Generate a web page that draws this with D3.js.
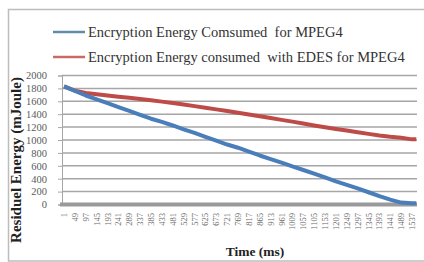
<!DOCTYPE html>
<html><head><meta charset="utf-8">
<script src="https://cdn.jsdelivr.net/npm/d3@7"></script>
<style>html,body{margin:0;padding:0;background:#fff;}svg{display:block;}</style>
</head><body><svg id="c" width="424" height="262"></svg>
<script>
const times = [1,49,97,145,193,241,289,337,385,433,481,529,577,625,673,721,769,817,865,913,961,1009,1057,1105,1153,1201,1249,1297,1345,1393,1441,1489,1537,1556];
const blueValues = [1830,1760,1690,1630,1570,1510,1450,1390,1330,1280,1225,1165,1110,1050,990,930,880,820,760,705,650,590,535,480,420,360,305,250,190,130,75,30,20,20];
const redValues = [1830,1765,1730,1710,1690,1672,1655,1635,1615,1595,1575,1550,1525,1500,1475,1450,1422,1395,1367,1340,1312,1285,1255,1226,1198,1172,1146,1120,1095,1070,1050,1035,1010,1010];
const tickLabels = ["1","49","97","145","193","241","289","337","385","433","481","529","577","625","673","721","769","817","865","913","961","1009","1057","1105","1153","1201","1249","1297","1345","1393","1441","1489","1537"];
const yTicks = [0,200,400,600,800,1000,1200,1400,1600,1800,2000];
const seriesNames = ["Encryption Energy Comsumed  for MPEG4","Encryption Energy consumed  with EDES for MPEG4"];
const colors = ["#4a7ebb","#be4b48"];
const legendColors = ["#5d8fa8","#c86a66"];

const svg = d3.select("#c");
const serif = "'Liberation Serif', 'DejaVu Serif', serif";
svg.append("rect").attr("x",8.5).attr("y",9.5).attr("width",430).attr("height",251.5)
  .attr("fill","#fff").attr("stroke","#bdbdbd").attr("stroke-width",1.5);

const x = d3.scaleLinear().domain([-8,1559]).range([62,417]);
const y = d3.scaleLinear().domain([0,2000]).range([204.5,75.5]);

// gridlines
svg.append("g").selectAll("line").data(yTicks.filter(d=>d>0)).join("line")
  .attr("x1",62).attr("x2",417).attr("y1",d=>y(d)).attr("y2",d=>y(d))
  .attr("stroke","#a6a6a6").attr("stroke-width",1.5);

// y axis
const ya = svg.append("g").attr("transform","translate(62,0)")
  .call(d3.axisLeft(y).tickValues(yTicks).tickFormat(d3.format("d")).tickSize(4).tickPadding(11));
ya.select(".domain").attr("stroke","#a6a6a6").attr("stroke-width",1);
ya.selectAll(".tick line").attr("stroke","#a6a6a6");
ya.selectAll("text").attr("font-family",serif).attr("font-size",10.5).attr("fill","#5a5a5a");

// x axis thick bar
svg.append("line").attr("x1",60).attr("x2",417).attr("y1",y(0)).attr("y2",y(0))
  .attr("stroke","#9a9a9a").attr("stroke-width",4);

// x tick labels
svg.append("g").selectAll("text").data(tickLabels).join("text")
  .attr("transform",d=>`translate(${x(+d)+3},213) rotate(-90)`)
  .attr("text-anchor","end").attr("font-family",serif).attr("font-size",8.5)
  .attr("fill","#6a6a6a").text(d=>d);

// lines
const line = vals => d3.line().x((d,i)=>x(times[i])).y(d=>y(d))(vals);
[redValues, blueValues].forEach((vals,k)=>{
  svg.append("path").attr("d",line(vals)).attr("fill","none")
    .attr("stroke", k===0?colors[1]:colors[0]).attr("stroke-width",4).attr("stroke-linejoin","round");
});

// legend
seriesNames.forEach((name,i)=>{
  const ly = 32 + i*25;
  svg.append("line").attr("x1",53).attr("x2",85).attr("y1",ly).attr("y2",ly)
    .attr("stroke",legendColors[i]).attr("stroke-width",2.5);
  svg.append("text").attr("x",88).attr("y",ly+5).attr("font-family",serif)
    .attr("font-size",14.5).attr("fill","#333").style("white-space","pre").text(name);
});

// axis titles
svg.append("text").attr("transform","translate(21,160) rotate(-90)").attr("text-anchor","middle")
  .attr("font-family",serif).attr("font-weight","bold").attr("font-size",15).attr("fill","#222")
  .text("Residuel Energy (mJoule)");
svg.append("text").attr("x",255).attr("y",256).attr("text-anchor","middle")
  .attr("font-family",serif).attr("font-weight","bold").attr("font-size",13.5).attr("fill","#222")
  .text("Time (ms)");
</script></body></html>
